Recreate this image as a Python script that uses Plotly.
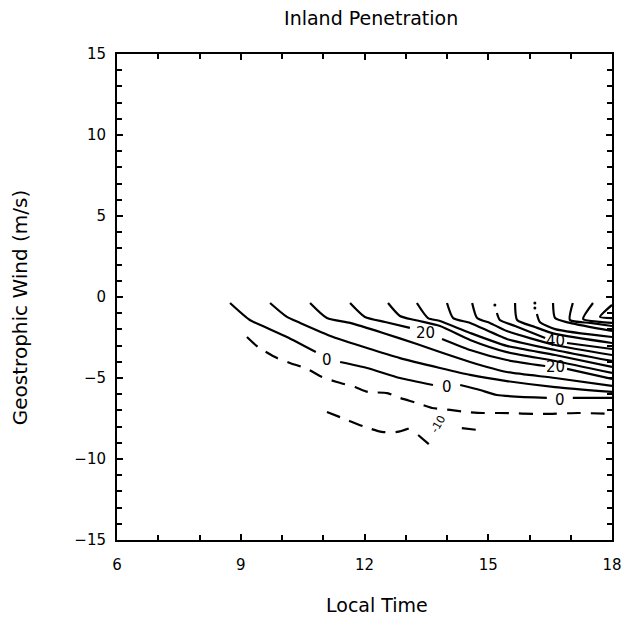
import plotly.graph_objects as go

# contour lines: local time (h) vs geostrophic wind (m/s)
# None marks a break in the line where a contour label sits
c0_x = [8.74, 9.22, 9.64, 10.12, 10.82, None, 11.41, 12.06, 12.86, 13.66, None, 14.32, 14.80, 15.21, 16.42, None, 17.05, 18.0]
c0_y = [-0.37, -1.42, -1.91, -2.47, -3.40, None, -4.01, -4.38, -5.0, -5.43, None, -5.43, -5.74, -6.05, -6.23, None, -6.23, -6.23]
c1_x = [9.71, 10.12, 10.44, 11.24, 12.06, 12.86, 13.83, 14.56, 15.45, 16.62, 18.0]
c1_y = [-0.37, -1.23, -1.60, -2.47, -3.15, -3.77, -4.38, -4.81, -5.19, -5.56, -5.86]
c2_x = [10.68, 11.09, 11.65, 12.45, 13.27, 13.83, 14.56, 15.45, 16.62, 18.0]
c2_y = [-0.37, -1.30, -1.60, -2.22, -2.90, -3.40, -4.01, -4.63, -5.0, -5.49]
c3_x = [11.65, 12.01, 12.50, 13.10, None, 13.88, 14.56, 15.45, 16.38, None, 16.91, 18.0]
c3_y = [-0.37, -1.23, -1.54, -1.91, None, -2.59, -3.27, -3.89, -4.26, None, -4.44, -5.06]
c4_x = [12.57, 12.86, 13.22, 13.83, 14.56, 15.45, 16.62, 18.0]
c4_y = [-0.37, -1.17, -1.42, -1.79, -2.65, -3.40, -3.95, -4.69]
c5_x = [13.27, 13.54, 13.83, 14.56, 15.45, 16.62, 18.0]
c5_y = [-0.37, -1.30, -1.48, -2.22, -3.02, -3.58, -4.32]
c6_x = [14.0, 14.15, 14.56, 15.45, 16.62, 18.0]
c6_y = [-0.37, -1.30, -1.60, -2.59, -3.27, -3.95]
c7_x = [14.61, 14.73, 15.04, 15.45, 16.62, 18.0]
c7_y = [-0.37, -1.30, -1.60, -2.10, -2.96, -3.58]
c8_x = [15.21, 15.28, 15.65, 16.38, None, 16.91, 18.0]
c8_y = [-0.99, -1.42, -1.79, -2.53, None, -2.84, -3.21]
c9_x = [15.65, 15.70, 16.13, 16.62, 18.0]
c9_y = [-0.37, -1.42, -1.85, -2.28, -2.84]
c10_x = [16.18, 16.25, 16.62, 18.0]
c10_y = [-1.05, -1.54, -1.98, -2.47]
c11_x = [16.57, 16.62, 16.98, 18.0]
c11_y = [-0.37, -1.30, -1.60, -2.10]
c12_x = [17.05, 16.98, 17.47, 18.0]
c12_y = [-0.37, -1.42, -1.60, -1.79]
c13_x = [17.54, 17.30, 17.71, 18.0]
c13_y = [-0.37, -1.36, -1.54, -1.60]
c14_x = [18.0, 17.71, 18.0]
c14_y = [-0.49, -1.23, -1.30]

# negative contours (dashed)
d1_x = [9.15, 9.42, 9.88, 10.19, 10.61, 10.97, 11.33, 11.77, 12.08, 12.55, 12.86, 13.27, 13.64, 14.12, 14.48, 14.87, 15.28, 16.33, 17.18, 18.0]
d1_y = [-2.47, -3.09, -3.77, -4.07, -4.44, -4.94, -5.25, -5.56, -5.86, -5.93, -6.23, -6.54, -6.85, -6.98, -7.10, -7.16, -7.16, -7.22, -7.16, -7.22]
d2_x = [11.09, 11.58, 12.01, 12.42, 12.79, 13.18, None, 13.30, 13.64, None, 14.36, 14.75]
d2_y = [-7.10, -7.59, -8.02, -8.33, -8.33, -8.02, None, -8.52, -9.26, None, -8.09, -8.21]

# small specks at the top of two contours
dot_x = [15.16, 16.13, 16.13]
dot_y = [-0.49, -0.37, -0.68]

# contour labels
lab_x = [11.09, 14.0, 16.74, 13.47, 16.62, 16.62]
lab_y = [-3.89, -5.56, -6.36, -2.22, -4.32, -2.72]
lab_t = ['0', '0', '0', '20', '20', '40']

solid = [(c0_x, c0_y), (c1_x, c1_y), (c2_x, c2_y), (c3_x, c3_y), (c4_x, c4_y),
         (c5_x, c5_y), (c6_x, c6_y), (c7_x, c7_y), (c8_x, c8_y), (c9_x, c9_y),
         (c10_x, c10_y), (c11_x, c11_y), (c12_x, c12_y), (c13_x, c13_y), (c14_x, c14_y)]

fig = go.Figure()
for xs, ys in solid:
    fig.add_trace(go.Scatter(x=xs, y=ys, mode='lines', showlegend=False,
                             line=dict(color='black', width=2.2, shape='spline', smoothing=0.6),
                             connectgaps=False, hoverinfo='skip'))
for xs, ys in [(d1_x, d1_y), (d2_x, d2_y)]:
    fig.add_trace(go.Scatter(x=xs, y=ys, mode='lines', showlegend=False,
                             line=dict(color='black', width=2.2, dash='14px,10px', shape='spline', smoothing=0.6),
                             connectgaps=False, hoverinfo='skip'))
fig.add_trace(go.Scatter(x=dot_x, y=dot_y, mode='markers', showlegend=False,
                         marker=dict(color='black', size=3), hoverinfo='skip'))

for x, y, t in zip(lab_x, lab_y, lab_t):
    fig.add_annotation(x=x, y=y, text=t, showarrow=False,
                       font=dict(family='DejaVu Sans', size=15, color='black'))
# rotated label on the lower dashed contour
fig.add_annotation(x=13.78, y=-7.85, text='-10', showarrow=False, textangle=-60,
                   font=dict(family='DejaVu Sans', size=11, color='black'))

fig.add_annotation(x=0.525, y=-0.134, xref='paper', yref='paper', text='Local Time',
                   xanchor='center', yanchor='middle', showarrow=False,
                   font=dict(family='DejaVu Sans', size=19, color='black'))
fig.add_annotation(x=-0.196, y=0.479, xref='paper', yref='paper', text='Geostrophic Wind (m/s)',
                   xanchor='center', yanchor='middle', showarrow=False, textangle=-90,
                   font=dict(family='DejaVu Sans', size=20, color='black'))

axis_common = dict(showgrid=False, zeroline=False, showline=True, linecolor='black', linewidth=2,
                   mirror='allticks', ticks='inside', ticklen=6, tickwidth=1.5, tickcolor='black',
                   tickfont=dict(family='DejaVu Sans', size=15, color='black'))

fig.update_layout(
    width=636, height=622,
    margin=dict(l=109, r=32, t=46, b=90),
    paper_bgcolor='white', plot_bgcolor='white',
    title=dict(text='Inland Penetration', x=0.571, y=0.984, xanchor='center', yanchor='middle',
               font=dict(family='DejaVu Sans', size=19, color='black')),
    xaxis=dict(range=[6, 18], tickvals=[6, 9, 12, 15, 18], ticklabelstandoff=10,
               minor=dict(dtick=1, ticks='inside', ticklen=5, tickcolor='black'),
               **axis_common),
    yaxis=dict(range=[-15, 15], tickvals=[-15, -10, -5, 0, 5, 10, 15], ticklabelstandoff=6,
               minor=dict(dtick=1, ticks='inside', ticklen=5, tickcolor='black'),
               **axis_common),
)

fig.write_html("out.html")
